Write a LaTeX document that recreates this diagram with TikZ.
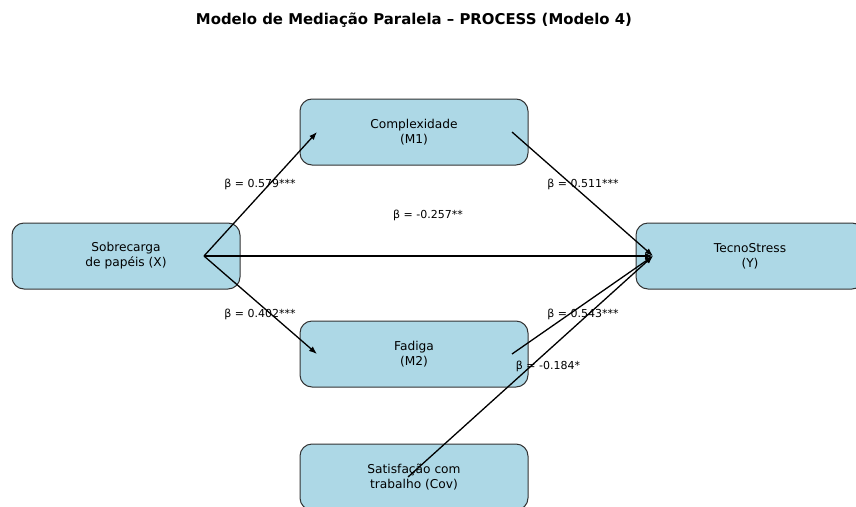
\documentclass[tikz,border=0pt]{standalone}
\usepackage{fontspec}
\setmainfont{DejaVu Sans}
\usetikzlibrary{arrows.meta}

\definecolor{caixa}{HTML}{ADD8E6}
\definecolor{borda}{HTML}{333333}

\tikzset{
  varbox/.style={draw=borda, fill=caixa, line width=1pt, rounded corners=12pt,
    minimum width=228pt, minimum height=66pt, align=center,
    font=\fontsize{12.2}{14.8}\selectfont},
  coef/.style={font=\fontsize{11}{13}\selectfont},
  efeito/.style={line width=1.3pt, -{Latex[length=8pt,width=6pt]}}
}

\begin{document}
\begin{tikzpicture}[x=1pt, y=-1pt]
		\useasboundingbox (0, 0) rectangle (856, 506);
		\node [font=\fontsize{14.9}{17}\selectfont\bfseries] (titulo) at (414, 20)
		{Modelo de Mediação Paralela – PROCESS (Modelo 4)};

		% variaveis
		\node [varbox] (X) at (126, 256) {Sobrecarga\\de papéis (X)};
		\node [varbox] (M1) at (414, 132) {Complexidade\\(M1)};
		\node [varbox] (M2) at (414, 354) {Fadiga\\(M2)};
		\node [varbox] (Cov) at (414, 477) {Satisfação com\\trabalho (Cov)};
		\node [varbox] (Y) at (750, 256) {TecnoStress\\(Y)};

		% coeficientes
		\node [coef] (a1) at (260, 184) {β = 0.579***};
		\node [coef] (b1) at (583, 184) {β = 0.511***};
		\node [coef] (c) at (428, 215) {β = -0.257**};
		\node [coef] (a2) at (260, 314) {β = 0.402***};
		\node [coef] (b2) at (583, 314) {β = 0.543***};
		\node [coef] (cv) at (548, 366) {β = -0.184*};

		\coordinate (Xout) at ([xshift=78]X.center);
		\coordinate (M1in) at ([xshift=-97]M1.center);
		\coordinate (M1out) at ([xshift=98]M1.center);
		\coordinate (M2in) at ([xshift=-97]M2.center);
		\coordinate (M2out) at ([xshift=98]M2.center);
		\coordinate (Covout) at ([xshift=-6]Cov.center);
		\coordinate (Yin) at ([xshift=-97]Y.center);

		\draw [efeito] (Xout) -- (M1in);
		\draw [efeito] (Xout) -- (M2in);
		\draw [efeito] (Xout) -- (Yin);
		\draw [efeito] (M1out) -- (Yin);
		\draw [efeito] (M2out) -- (Yin);
		\draw [efeito] (Covout) -- (Yin);
	\end{tikzpicture}
\end{document}
